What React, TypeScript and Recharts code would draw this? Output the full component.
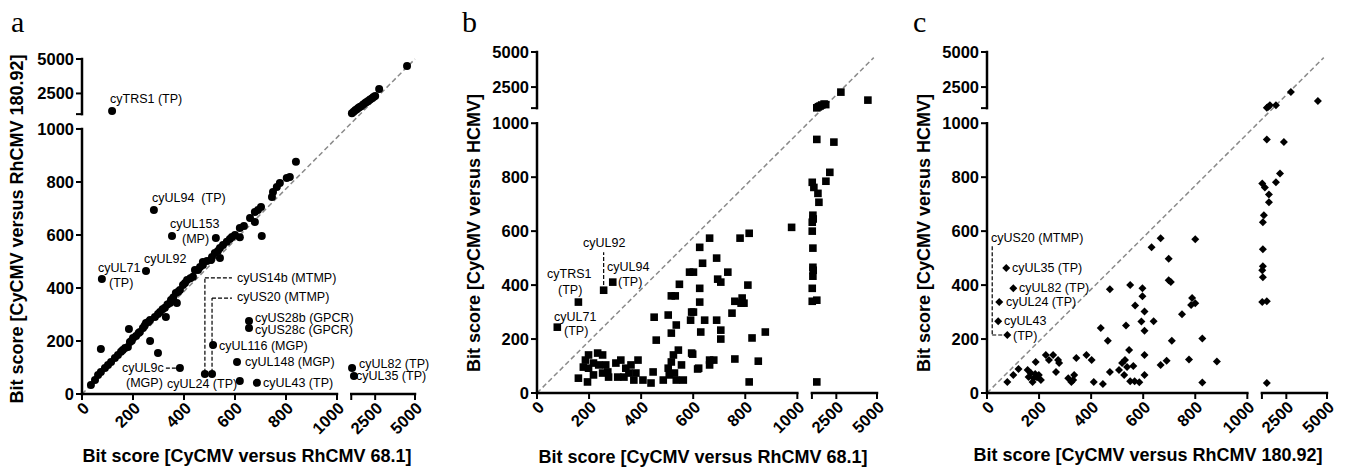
import React from 'react';
import { ScatterChart, Scatter, XAxis, YAxis, ReferenceLine } from 'recharts';

type P = [number, number];

// ---------- Panel a : CyCMV vs RhCMV 68.1 (x) / RhCMV 180.92 (y) ----------
const aDiagonal: P[] = [
  [35, 34], [51, 53], [63, 72], [74, 83], [90, 98], [102, 109], [114, 121], [129, 136], [141, 147],
  [153, 159], [160, 166], [169, 174], [180, 177], [188, 196], [195, 201], [200, 211], [212, 219],
  [222, 230], [227, 234], [239, 249], [246, 258], [251, 268], [260, 272], [267, 279], [286, 291],
  [298, 302], [306, 309], [316, 320], [325, 325], [335, 338], [345, 343], [349, 355], [358, 364],
  [368, 381], [377, 386], [384, 392], [396, 411], [404, 419], [412, 430], [425, 437], [435, 442],
  [443, 468], [455, 468], [463, 479], [474, 487], [474, 498], [490, 502], [506, 506], [510, 517],
  [521, 532], [533, 540], [541, 551], [553, 562], [568, 574], [580, 585], [588, 592], [600, 600],
  [619, 626], [635, 634], [659, 664], [678, 649], [678, 687], [690, 694], [702, 706], [745, 743],
  [749, 762], [764, 781], [776, 796], [803, 815], [815, 819], [839, 876],
];
const aOffDiagonal: P[] = [
  [74, 170], [184, 245], [267, 200], [298, 155], [329, 291], [372, 343], [541, 513], [525, 589],
  [619, 591], [705, 596], [384, 98], [482, 75], [510, 75], [619, 49], [686, 42], [608, 121],
  [514, 185], [655, 275], [655, 249], [282, 694], [353, 596], [78, 434], [251, 464],
];
const aHigh: P[] = [
  [118, 1230], [1040, 1060], [1150, 1170], [1250, 1290], [1350, 1360], [1440, 1440], [1530, 1510],
  [1625, 1580], [1750, 1700], [1875, 1800], [1970, 1880], [2060, 1950], [2180, 2060], [2310, 2160],
  [2400, 2240], [2500, 2310], [2750, 2820], [4500, 4490], [1050, 98], [1170, 68],
];

// ---------- Panel b : CyCMV vs RhCMV 68.1 (x) / HCMV (y) ----------
const bCluster: P[] = [
  [186, 122], [198, 141], [233, 148], [252, 141], [178, 96], [198, 92], [217, 111], [237, 104],
  [264, 104], [159, 55], [194, 41], [217, 67], [252, 74], [272, 78], [275, 59], [303, 111],
  [322, 122], [310, 59], [334, 59], [341, 92], [361, 104], [353, 74], [380, 74], [388, 122],
  [372, 48], [407, 48], [446, 78], [438, 37], [485, 48], [504, 92], [508, 67], [516, 115],
  [524, 141], [528, 74], [543, 159], [535, 48], [562, 48], [555, 104], [594, 148], [621, 92],
];
const bSpread: P[] = [
  [978, 614], [815, 592], [780, 574], [663, 574], [625, 540], [690, 500], [636, 481], [586, 448],
  [601, 448], [733, 448], [694, 422], [706, 411], [810, 400], [625, 388], [547, 403], [788, 352],
  [795, 333], [784, 333], [760, 340], [625, 337], [601, 300], [749, 296], [590, 270], [644, 270],
  [690, 270], [629, 226], [706, 233], [706, 200], [826, 204], [877, 226], [598, 144], [617, 89],
  [663, 122], [679, 122], [663, 104], [760, 126], [850, 118], [815, 41], [450, 281], [458, 196],
  [504, 289], [516, 360], [531, 360], [516, 222], [535, 252], [594, 300],
  [159, 337], [78, 244], [256, 381], [291, 411],
];
const bHigh: P[] = [
  [2780, 2140], [4440, 1570], [1300, 1020], [1400, 1100], [1500, 1150], [1600, 1220], [1750, 1290],
  [1850, 1250], [1300, 940], [2350, 930], [2100, 818], [1860, 785], [1020, 781], [1120, 762],
  [1370, 740], [1430, 707], [1060, 659], [1080, 645], [1020, 633], [1020, 600], [1060, 537],
  [1060, 466], [1080, 455], [1060, 433], [1020, 388], [1020, 340], [1300, 344], [1300, 41],
];

// ---------- Panel c : CyCMV vs RhCMV 180.92 (x) / HCMV (y) ----------
const cCluster: P[] = [
  [78, 41], [101, 67], [121, 89], [156, 85], [168, 74], [160, 59], [179, 55], [175, 41], [187, 115],
  [199, 67], [207, 48], [185, 70], [192, 58], [226, 141], [254, 141], [238, 122], [273, 122],
  [277, 111], [265, 78], [312, 55], [324, 41], [335, 67], [343, 130], [331, 48], [382, 141],
  [402, 122], [410, 41], [445, 33], [472, 78], [519, 111], [507, 85], [527, 67], [546, 159],
  [530, 122], [538, 96], [550, 44], [567, 44], [585, 40],
];
const cSpread: P[] = [
  [800, 570], [667, 574], [632, 540], [698, 498], [698, 418], [706, 411], [597, 388], [597, 359],
  [569, 324], [550, 400], [472, 385], [788, 352], [800, 333], [784, 326], [605, 302], [593, 265],
  [640, 266], [605, 231], [534, 250], [437, 241], [464, 194], [749, 292], [710, 194], [827, 202],
  [605, 141], [562, 100], [667, 104], [690, 120], [776, 124], [883, 117], [605, 67], [827, 39],
  [74, 463], [101, 388], [47, 337], [43, 266], [78, 215],
];
const cHigh: P[] = [
  [2780, 2140], [4440, 1500], [1300, 1020], [1400, 1100], [1490, 1210], [1860, 1210], [1300, 940],
  [2350, 930], [2110, 814], [1860, 781], [1020, 777], [1180, 762], [1430, 736], [1430, 707],
  [1120, 659], [1060, 633], [1060, 533], [1060, 470], [1020, 455], [1060, 429], [1020, 337],
  [1300, 340], [1300, 37],
];

// ---------- tick labels ----------
const tickRaw = [0, 200, 400, 600, 800, 1000, 2500, 5000];
const tickLabels = ['0', '200', '400', '600', '800', '1000', '2500', '5000'];

// ---------- broken-axis transform ----------
const BREAK = 1000;
const GAP = 56;
const KX = 0.0625;
const KY = 0.052;
const tX = (v: number) => (v <= BREAK ? v : BREAK + GAP + (v - BREAK) * KX);
const tY = (v: number) => (v <= BREAK ? v : BREAK + GAP + (v - BREAK) * KY);
const X_MAX = tX(5000);
const Y_MAX = tY(5000);
const SEG2 = BREAK + GAP;

const xTicks = [...tickRaw.map(tX), SEG2].sort((p, q) => p - q);
const yTicks = [...tickRaw.map(tY), SEG2].sort((p, q) => p - q);
const labelOf = (v: number, f: (n: number) => number) => {
  const i = tickRaw.findIndex((r) => Math.abs(f(r) - v) < 0.01);
  return i >= 0 ? tickLabels[i] : '';
};

const FONT = '"Liberation Sans", Arial, Helvetica, sans-serif';
const toPts = (arr: P[]) => arr.map(([x, y]) => ({ x: tX(x), y: tY(y) }));

const XTick = (props: any) => {
  const { x, y, payload } = props;
  const label = labelOf(payload.value, tX);
  if (!label) return null;
  const ax = x + 4;
  const ay = y + 3;
  return (
    <text x={ax} y={ay} transform={`rotate(-45 ${ax} ${ay})`} textAnchor="end" dominantBaseline="central"
      fontFamily={FONT} fontWeight="bold" fontSize={16.5} fill="#000">{label}</text>
  );
};
const YTick = (props: any) => {
  const { x, y, payload } = props;
  const label = labelOf(payload.value, tY);
  if (!label) return null;
  return (
    <text x={x} y={y} textAnchor="end" dominantBaseline="central"
      fontFamily={FONT} fontWeight="bold" fontSize={16.5} fill="#000">{label}</text>
  );
};

const circleShape = (p: any) => <circle cx={p.cx} cy={p.cy} r={4} fill="#000" />;
const squareShape = (p: any) => <rect x={p.cx - 3.8} y={p.cy - 3.8} width={7.6} height={7.6} fill="#000" />;
const diamondShape = (p: any) => (
  <polygon points={`${p.cx},${p.cy - 4} ${p.cx + 4},${p.cy} ${p.cx},${p.cy + 4} ${p.cx - 4},${p.cy}`} fill="#000" />
);

type Seg = [P, P];
interface PanelProps {
  left: number;
  width: number;
  margin: { top: number; right: number; bottom: number; left: number };
  points: { x: number; y: number }[];
  shape: (p: any) => React.ReactElement;
  diagEnd: P;
  guides: Seg[];
}

const AXIS = { stroke: '#000', strokeWidth: 2.5 };

const Panel = ({ left, width, margin, points, shape, diagEnd, guides }: PanelProps) => (
  <div style={{ position: 'absolute', left, top: 0 }}>
    <ScatterChart width={width} height={472} margin={margin}>
      <XAxis type="number" dataKey="x" domain={[0, X_MAX]} ticks={xTicks} interval={0} height={50}
        axisLine={false} tickLine={{ stroke: '#000', strokeWidth: 2 }} tickSize={6} tick={<XTick />} />
      <YAxis type="number" dataKey="y" domain={[0, Y_MAX]} ticks={yTicks} interval={0} width={60}
        axisLine={false} tickLine={{ stroke: '#000', strokeWidth: 2 }} tickSize={6} tick={<YTick />} />
      <ReferenceLine segment={[{ x: 0, y: 0 }, { x: diagEnd[0], y: diagEnd[1] }]} stroke="#8a8a8a"
        strokeWidth={1.5} strokeDasharray="5 3" />
      {guides.map((g, i) => (
        <ReferenceLine key={'g' + i} segment={[{ x: g[0][0], y: g[0][1] }, { x: g[1][0], y: g[1][1] }]}
          stroke="#000" strokeWidth={1.2} strokeDasharray="4 2" />
      ))}
      <ReferenceLine segment={[{ x: 0, y: 0 }, { x: BREAK, y: 0 }]} {...AXIS} strokeLinecap="square" />
      <ReferenceLine segment={[{ x: SEG2, y: 0 }, { x: X_MAX, y: 0 }]} {...AXIS} strokeLinecap="square" />
      <ReferenceLine segment={[{ x: 0, y: 0 }, { x: 0, y: BREAK }]} {...AXIS} strokeLinecap="square" />
      <ReferenceLine segment={[{ x: 0, y: SEG2 }, { x: 0, y: Y_MAX }]} {...AXIS} strokeLinecap="square" />
      <Scatter data={points} shape={shape} isAnimationActive={false} />
    </ScatterChart>
  </div>
);

// ---------- annotation layout (pixel positions of texts) ----------
const notesA = [
  { t: 'cyTRS1 (TP)', x: 110, y: 99 }, { t: 'cyUL94  (TP)', x: 152, y: 198 },
  { t: 'cyUL153', x: 170, y: 224 }, { t: '(MP)', x: 182, y: 239 }, { t: 'cyUL92', x: 144, y: 259 },
  { t: 'cyUL71', x: 98, y: 268 }, { t: '(TP)', x: 109, y: 283 },
  { t: 'cyUS14b (MTMP)', x: 237, y: 278 }, { t: 'cyUS20 (MTMP)', x: 237, y: 297 },
  { t: 'cyUS28b (GPCR)', x: 255, y: 318 }, { t: 'cyUS28c (GPCR)', x: 255, y: 330 },
  { t: 'cyUL116 (MGP)', x: 219, y: 346 }, { t: 'cyUL148 (MGP)', x: 245, y: 362 },
  { t: 'cyUL9c', x: 122, y: 368 }, { t: '(MGP)', x: 126, y: 383 }, { t: 'cyUL24 (TP)', x: 167, y: 384 },
  { t: 'cyUL43 (TP)', x: 263, y: 383 }, { t: 'cyUL82 (TP)', x: 359, y: 364 }, { t: 'cyUL35 (TP)', x: 356, y: 376 },
];
const notesB = [
  { t: 'cyUL92', x: 583, y: 243 }, { t: 'cyTRS1', x: 547, y: 274 }, { t: '(TP)', x: 558, y: 290 },
  { t: 'cyUL94', x: 607, y: 267 }, { t: '(TP)', x: 618, y: 282 },
  { t: 'cyUL71', x: 554, y: 317 }, { t: '(TP)', x: 564, y: 331 },
];
const notesC = [
  { t: 'cyUS20 (MTMP)', x: 991, y: 238 }, { t: 'cyUL35 (TP)', x: 1012, y: 268 },
  { t: 'cyUL82 (TP)', x: 1019, y: 288 }, { t: 'cyUL24 (TP)', x: 1006, y: 302 },
  { t: 'cyUL43', x: 1004, y: 321 }, { t: '(TP)', x: 1013, y: 336 },
];

const guidesA: Seg[] = [
  [[482, 80], [482, 438]], [[482, 438], [588, 438]],
  [[510, 80], [510, 362]], [[510, 362], [588, 362]],
  [[329, 98], [370, 98]],
];
const guidesB: Seg[] = [[[256, 400], [256, 522]]];
const guidesC: Seg[] = [[[20, 544], [20, 215]], [[20, 215], [62, 215]]];

const Note = ({ t, x, y }: { t: string; x: number; y: number }) => (
  <div style={{ position: 'absolute', left: x, top: y, transform: 'translateY(-50%)', fontFamily: FONT,
    fontSize: 12.5, lineHeight: 1, whiteSpace: 'pre', color: '#000' }}>{t}</div>
);
const Title = ({ t, cx, cy, rotate }: { t: string; cx: number; cy: number; rotate?: boolean }) => (
  <div style={{ position: 'absolute', left: cx, top: cy,
    transform: `translate(-50%, -50%)${rotate ? ' rotate(-90deg)' : ''}`, fontFamily: FONT, fontWeight: 700,
    fontSize: 18, lineHeight: 1, whiteSpace: 'nowrap', color: '#000' }}>{t}</div>
);
const Letter = ({ t, x }: { t: string; x: number }) => (
  <div style={{ position: 'absolute', left: x, top: 7, fontFamily: '"Liberation Serif", "Times New Roman", serif',
    fontSize: 30, lineHeight: 1, color: '#000' }}>{t}</div>
);

const fix = (arr: Seg[]): Seg[] => arr.map(([p, q]) => [[tX(p[0]), tY(p[1])], [tX(q[0]), tY(q[1])]]);

export default function App() {
  return (
    <div style={{ position: 'absolute', left: 0, top: 0, width: 1353, height: 472, background: '#fff', overflow: 'hidden' }}>
      <Panel left={0} width={450} margin={{ top: 59, right: 35, bottom: 28, left: 22 }}
        points={toPts([...aDiagonal, ...aOffDiagonal, ...aHigh])} shape={circleShape}
        diagEnd={[X_MAX, Y_MAX]} guides={fix(guidesA)} />
      <Panel left={450} width={450} margin={{ top: 52, right: 23, bottom: 29, left: 27 }}
        points={toPts([...bCluster, ...bSpread, ...bHigh])} shape={squareShape}
        diagEnd={[tX(4800), tY(4600)]} guides={fix(guidesB)} />
      <Panel left={900} width={453} margin={{ top: 52, right: 26, bottom: 29, left: 27 }}
        points={toPts([...cCluster, ...cSpread, ...cHigh])} shape={diamondShape}
        diagEnd={[tX(4800), tY(4600)]} guides={fix(guidesC)} />

      {notesA.map((n, i) => <Note key={'a' + i} {...n} />)}
      {notesB.map((n, i) => <Note key={'b' + i} {...n} />)}
      {notesC.map((n, i) => <Note key={'c' + i} {...n} />)}

      <Title t="Bit score [CyCMV versus RhCMV 180.92]" cx={17} cy={229} rotate />
      <Title t="Bit score [CyCMV versus RhCMV 68.1]" cx={247} cy={456} />
      <Title t="Bit score [CyCMV versus HCMV]" cx={474} cy={233} rotate />
      <Title t="Bit score [CyCMV versus RhCMV 68.1]" cx={703} cy={457} />
      <Title t="Bit score [CyCMV versus HCMV]" cx={924} cy={233} rotate />
      <Title t="Bit score [CyCMV versus RhCMV 180.92]" cx={1148} cy={455} />

      <Letter t="a" x={11} />
      <Letter t="b" x={462} />
      <Letter t="c" x={913} />
    </div>
  );
}
